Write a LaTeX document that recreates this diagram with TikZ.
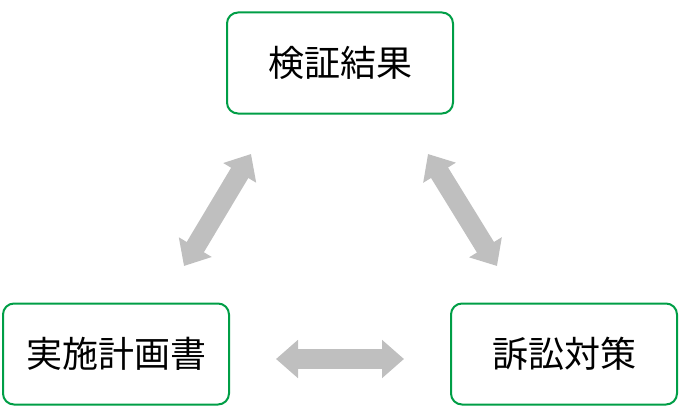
\documentclass[tikz,border=0pt]{standalone}
\usepackage{fontspec}
\setmainfont{Noto Sans CJK JP}
\usepackage{xcolor}
\usetikzlibrary{arrows.meta}
\definecolor{boxgreen}{RGB}{0,158,70}
\definecolor{arrowgray}{RGB}{191,191,191}
\tikzset{
  stepbox/.style={draw=boxgreen,line width=2pt,rounded corners=11pt,
    minimum width=226pt,minimum height=101pt,inner sep=0pt,
    font=\fontsize{36}{40}\selectfont},
  dblarrow/.style={draw=arrowgray,line width=20pt,
    {Triangle[width=37pt,length=22pt]}-{Triangle[width=37pt,length=22pt]}}
}
\begin{document}
\begin{tikzpicture}[x=1pt,y=-1pt]
      \useasboundingbox (0,0) rectangle (680,420);
      % boxes
      \node[stepbox] (result) at (340,63)  {検証結果};
      \node[stepbox] (plan)   at (116,354) {実施計画書};
      \node[stepbox] (suit)   at (564,354) {訴訟対策};
      % arrow ends
      \coordinate (pl1) at (184,266);
      \coordinate (pl2) at (251,154);
      \coordinate (ps1) at (428,154);
      \coordinate (ps2) at (497,266);
      \coordinate (h1)  at (276,359);
      \coordinate (h2)  at (404,359);
      \draw[dblarrow] (pl1) -- (pl2);
      \draw[dblarrow] (ps1) -- (ps2);
      \draw[dblarrow] (h1) -- (h2);
    \end{tikzpicture}
\end{document}
